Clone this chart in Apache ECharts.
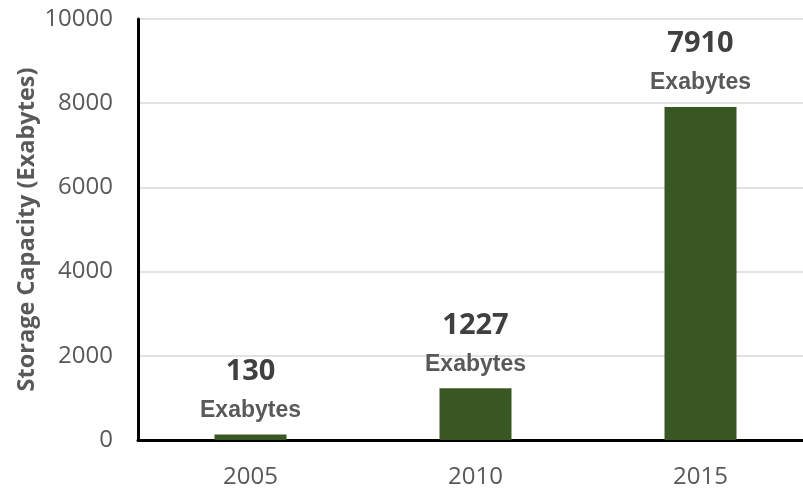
<!DOCTYPE html>
<html>
<head>
<meta charset="utf-8">
<script src="https://cdn.jsdelivr.net/npm/echarts@6/dist/echarts.min.js"></script>
<style>html,body{margin:0;padding:0;background:#fff;}#c{width:803px;height:492px;}</style>
</head>
<body>
<div id="c"></div>
<script>
const categories = ['2005', '2010', '2015'];
const values = [130, 1227, 7910];
const unitLabel = 'Exabytes';
const yAxisName = 'Storage Capacity (Exabytes)';

const chart = echarts.init(document.getElementById('c'));
chart.setOption({
  animation: false,
  backgroundColor: '#fff',
  grid: { left: 138, right: -10, top: 19, bottom: 52, containLabel: false, outerBoundsMode: 'none' },
  xAxis: {
    type: 'category',
    data: categories,
    axisLine: { lineStyle: { color: '#000', width: 3 } },
    axisTick: { show: false },
    axisLabel: { color: '#595959', fontFamily: 'Open Sans', fontSize: 24, margin: 25 }
  },
  yAxis: {
    type: 'value',
    min: 0, max: 10000, interval: 2000,
    name: yAxisName,
    nameLocation: 'middle',
    nameGap: 99,
    nameMoveOverlap: false,
    nameTextStyle: { color: '#595959', fontFamily: 'Open Sans', fontWeight: 'bold', fontSize: 23.5 },
    axisLine: { show: true, lineStyle: { color: '#000', width: 3 } },
    axisTick: { show: false },
    axisLabel: { color: '#595959', fontFamily: 'Open Sans', fontSize: 24, margin: 25, formatter: v => String(v) },
    splitLine: { lineStyle: { color: '#d9d9d9', width: 1.5 } }
  },
  series: [{
    type: 'bar',
    data: values,
    barWidth: '32%',
    itemStyle: { color: '#385723' },
    label: {
      show: true,
      position: 'top',
      distance: 8,
      formatter: p => '{v|' + p.value + '}\n{u|' + unitLabel + '}',
      rich: {
        v: { color: '#404040', fontFamily: 'Open Sans', fontWeight: 'bold', fontSize: 29, lineHeight: 46, align: 'center' },
        u: { color: '#595959', fontFamily: 'Liberation Sans', fontWeight: 'bold', fontSize: 23, lineHeight: 32, align: 'center' }
      }
    }
  }]
});
</script>
</body>
</html>
